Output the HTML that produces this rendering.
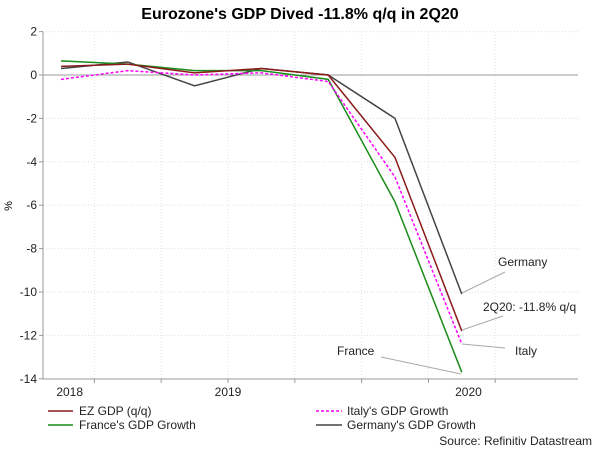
<!DOCTYPE html>
<html><head><meta charset="utf-8"><style>
body{margin:0;background:#fff;font-family:"Liberation Sans",sans-serif}
</style></head><body>
<svg width="600" height="452" font-family="Liberation Sans, sans-serif">
<rect width="600" height="452" fill="#fff"/>
<text x="300" y="19" text-anchor="middle" font-size="16" font-weight="bold">Eurozone's GDP Dived -11.8% q/q in 2Q20</text>
<g id="grid"></g><g id="axes"></g><g id="series"></g>
<g font-size="12" fill="#222">
<line x1="462" y1="293" x2="505" y2="272" stroke="#aaa"/><text x="498" y="266">Germany</text>
<line x1="462" y1="330" x2="503" y2="316" stroke="#aaa"/><text x="483" y="311">2Q20: -11.8% q/q</text>
<line x1="462" y1="344" x2="505" y2="348" stroke="#aaa"/><text x="515" y="355">Italy</text>
<line x1="381" y1="357" x2="461" y2="374" stroke="#aaa"/><text x="337" y="355">France</text>
</g>
<g font-size="12" fill="#222">
<line x1="48" y1="411" x2="73" y2="411" stroke="#8b1a1a" stroke-width="1.5"/><text x="79" y="415">EZ GDP (q/q)</text>
<line x1="48" y1="425" x2="73" y2="425" stroke="#1a8c1a" stroke-width="1.5"/><text x="79" y="429">France's GDP Growth</text>
<line x1="316" y1="411" x2="342" y2="411" stroke="#f0f" stroke-width="1.5" stroke-dasharray="3,2"/><text x="347" y="415">Italy's GDP Growth</text>
<line x1="316" y1="425" x2="342" y2="425" stroke="#444" stroke-width="1.5"/><text x="347" y="429">Germany's GDP Growth</text>
</g>
<text x="592" y="445" text-anchor="end" font-size="12" fill="#222">Source: Refinitiv Datastream</text>
<text x="12" y="206" font-size="11" transform="rotate(-90 12 206)" text-anchor="middle">%</text>
</svg>
<script>
const quarters=['4Q18','1Q19','2Q19','3Q19','4Q19','1Q20','2Q20'];
const ez=[0.4,0.5,0.1,0.3,0.0,-3.8,-11.8];
const italy=[-0.2,0.2,0.0,0.1,-0.3,-4.7,-12.4];
const france=[0.65,0.5,0.2,0.2,-0.2,-5.85,-13.7];
const germany=[0.3,0.6,-0.5,0.3,0.0,-2.0,-10.1];
const yTicks=[2,0,-2,-4,-6,-8,-10,-12,-14];
const xLabels=['2018','2019','2020'];
const xLabelPos=[0.13,2.5,6.1];
const NS='http://www.w3.org/2000/svg';
const L=43,R=578,T=32,B=379;
const y=v=>75-v*21.7;
const x=i=>61+i*66.8;
function mk(p,t,a){const e=document.createElementNS(NS,t);for(const k in a)e.setAttribute(k,a[k]);p.appendChild(e);return e;}
const grid=document.getElementById('grid'),axes=document.getElementById('axes'),ser=document.getElementById('series');
yTicks.forEach(v=>{
 if(v!==0&&v!==-14){const g=mk(grid,'line',{x1:L,x2:R,y1:y(v),y2:y(v),stroke:'#ddd','stroke-dasharray':'1,2'});
 
 }
 const t=mk(axes,'text',{x:L-6,y:y(v)+4,'text-anchor':'end','font-size':12,fill:'#222'});t.textContent=v;
 
 
 mk(axes,'line',{x1:L-4,x2:L,y1:y(v),y2:y(v),stroke:'#999'});
});
for(let i=0;i<8;i++){const tx=x(i)+33.4-66.8;if(tx<L)continue;
 const g=mk(grid,'line',{x1:tx,x2:tx,y1:T,y2:B,stroke:'#e4e4e4','stroke-dasharray':'1,2'});
 
 
 mk(axes,'line',{x1:tx,x2:tx,y1:B,y2:B+4,stroke:'#999'});}
const z=mk(axes,'line',{x1:L,x2:R,y1:y(0),y2:y(0),stroke:'#999'});


const ya=mk(axes,'line',{x1:L,x2:L,y1:T,y2:B,stroke:'#999'});


const xa=mk(axes,'line',{x1:L,x2:R,y1:B,y2:B,stroke:'#999'});


xLabels.forEach((s,i)=>{const t=mk(axes,'text',{x:x(xLabelPos[i]),y:B+17,'text-anchor':'middle','font-size':12,fill:'#222'});t.textContent=s;
 
 });
function line(d,c,name,dash){const p=mk(ser,'polyline',{points:d.map((v,i)=>x(i)+','+y(v)).join(' '),fill:'none',stroke:c,'stroke-width':1.5});
 if(dash)p.setAttribute('stroke-dasharray',dash);
 
 }
line(germany,'#444','germany-line');
line(france,'#1a8c1a','france-line');
line(ez,'#8b1a1a','ez-line');
line(italy,'#f0f','italy-line','3,2');
</script>
</body></html>
